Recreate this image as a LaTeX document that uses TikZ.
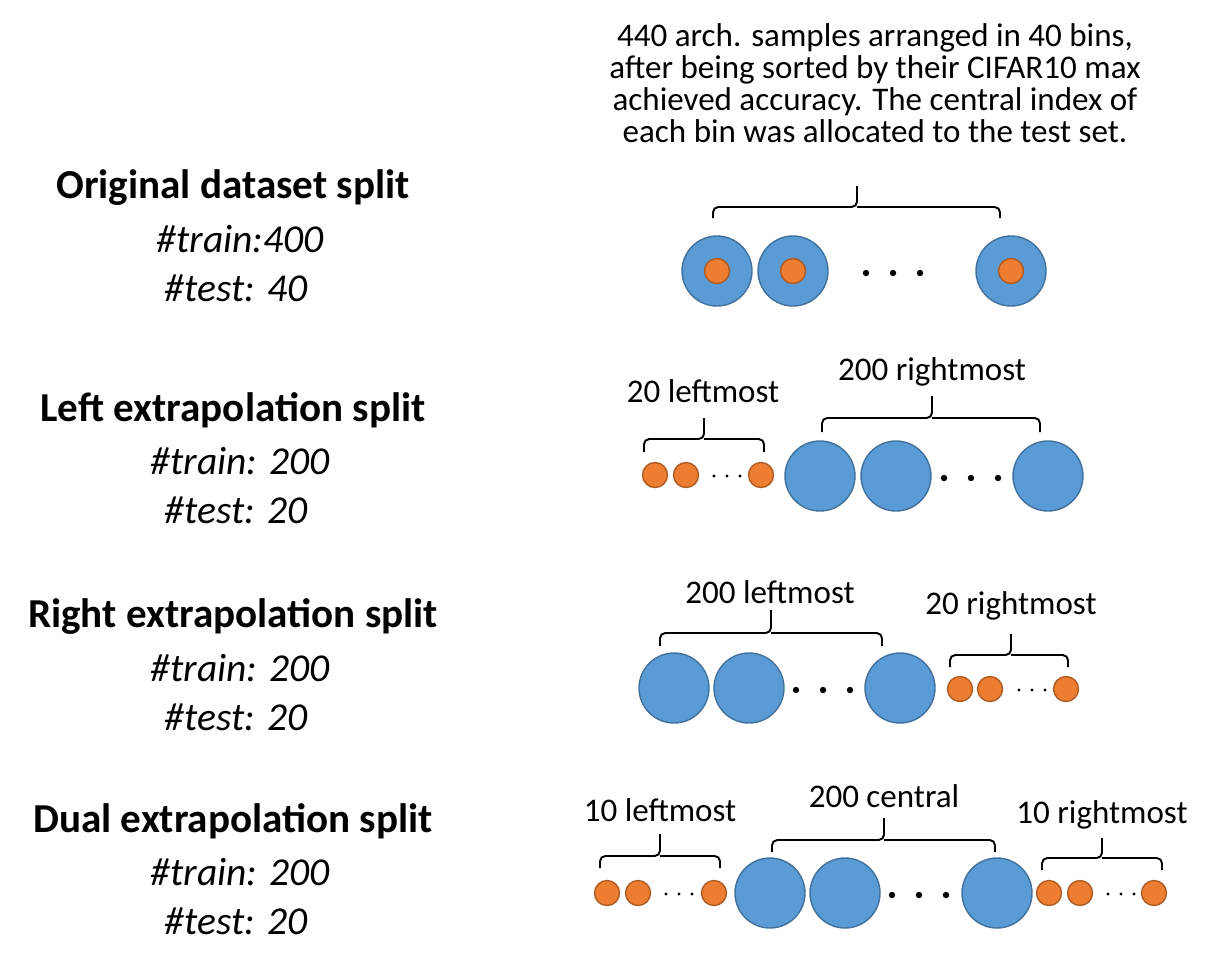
\documentclass[tikz,border=0pt]{standalone}
\usepackage{fontspec}
\setmainfont{Carlito}
\definecolor{bl}{HTML}{5B9BD5}
\definecolor{blb}{HTML}{41719C}
\definecolor{org}{HTML}{ED7D31}
\definecolor{orgb}{HTML}{AE5A21}
\tikzset{
 big/.style={circle,fill=bl,draw=blb,line width=0.8pt,minimum size=1.4cm,inner sep=0pt},
 small/.style={circle,fill=org,draw=orgb,line width=0.8pt,minimum size=0.5cm,inner sep=0pt},
 lbl/.style={font=\fontsize{18.8}{18.2}\selectfont,align=center},
 ttl/.style={font=\fontsize{23.4}{28}\selectfont\bfseries},
 itl/.style={font=\fontsize{22.5}{28}\selectfont\itshape},
 br/.style={line width=1.1pt,rounded corners=3pt}
}
\begin{document}
\begin{tikzpicture}[x=0.02cm,y=-0.02cm]
\useasboundingbox (0,0) rectangle (1226,971);
% left titles
\foreach \y/\t/\a/\b in {188/Original dataset split/\#train:400/\#test: 40,
 410/Left extrapolation split/\#train: 200/\#test: 20,
 617/Right extrapolation split/\#train: 200/\#test: 20,
 821/Dual extrapolation split/\#train: 200/\#test: 20}{
 \node[ttl] (t\y) at (233,\y) {\t};
 \node[itl] (a\y) at (240,\y+51) {\a};
 \node[itl] (b\y) at (236,\y+100) {\b};}
% row 1
\node[lbl] (top) at (875,83) {440 arch. samples arranged in 40 bins,\\after being sorted by their CIFAR10 max\\achieved accuracy. The central index of\\each bin was allocated to the test set.};
\draw[br] (713,218) -- (713,207) -- (857,207) -- (857,186);
\draw[br] (1000,218) -- (1000,207) -- (857,207);
\foreach \x/\n in {717/a,793/b,1011/c}{
 \node[big] (r1\n) at (\x,271) {};
 \node[small] (r1\n s) at (\x,271) {};}
\foreach \x in {866,893,920}{\fill (\x,273) circle (3.2);}
% row 2
\node[lbl] (l2a) at (703,391) {20 leftmost};
\draw[br] (644,452) -- (644,439) -- (704,439) -- (704,418);
\draw[br] (764,452) -- (764,439) -- (704,439);
\foreach \x/\n in {655/a,686/b,761/c}{\node[small] (r2\n) at (\x,475) {};}
\foreach \x in {714,727,740}{\fill (\x,476) circle (1.6);}
\node[lbl] (l2b) at (932,372) {200 rightmost};
\draw[br] (822,432) -- (822,418) -- (932,418) -- (932,396);
\draw[br] (1040,432) -- (1040,418) -- (932,418);
\foreach \x/\n in {820/d,896/e,1048/f}{\node[big] (r2\n) at (\x,476) {};}
\foreach \x in {944,971,998}{\fill (\x,478) circle (3.2);}
% row 3
\node[lbl] (l3a) at (770,592) {200 leftmost};
\draw[br] (660,646) -- (660,633) -- (771,633) -- (771,610);
\draw[br] (882,646) -- (882,633) -- (771,633);
\foreach \x/\n in {674/a,749/b,900/c}{\node[big] (r3\n) at (\x,688) {};}
\foreach \x in {796,823,850}{\fill (\x,690) circle (3.2);}
\node[lbl] (l3b) at (1011,606) {20 rightmost};
\draw[br] (950,667) -- (950,655) -- (1011,655) -- (1011,634);
\draw[br] (1068,667) -- (1068,655) -- (1011,655);
\foreach \x/\n in {960/d,990/e,1066/f}{\node[small] (r3\n) at (\x,689) {};}
\foreach \x in {1019,1032,1045}{\fill (\x,690) circle (1.6);}
% row 4
\node[lbl] (l4a) at (660,810) {10 leftmost};
\draw[br] (600,868) -- (600,856) -- (660,856) -- (660,834);
\draw[br] (720,868) -- (720,856) -- (660,856);
\foreach \x/\n in {607/a,638/b,714/c}{\node[small] (r4\n) at (\x,893) {};}
\foreach \x in {666,679,692}{\fill (\x,894) circle (1.6);}
\node[lbl] (l4b) at (884,796) {200 central};
\draw[br] (772,852) -- (772,840) -- (884,840) -- (884,818);
\draw[br] (995,852) -- (995,840) -- (884,840);
\foreach \x/\n in {770/d,845/e,997/f}{\node[big] (r4\n) at (\x,893) {};}
\foreach \x in {892,919,946}{\fill (\x,895) circle (3.2);}
\node[lbl] (l4c) at (1102,815) {10 rightmost};
\draw[br] (1042,870) -- (1042,858) -- (1102,858) -- (1102,838);
\draw[br] (1162,870) -- (1162,858) -- (1102,858);
\foreach \x/\n in {1049/g,1080/h,1154/i}{\node[small] (r4\n) at (\x,893) {};}
\foreach \x in {1108,1121,1134}{\fill (\x,894) circle (1.6);}
\end{tikzpicture}
\end{document}
